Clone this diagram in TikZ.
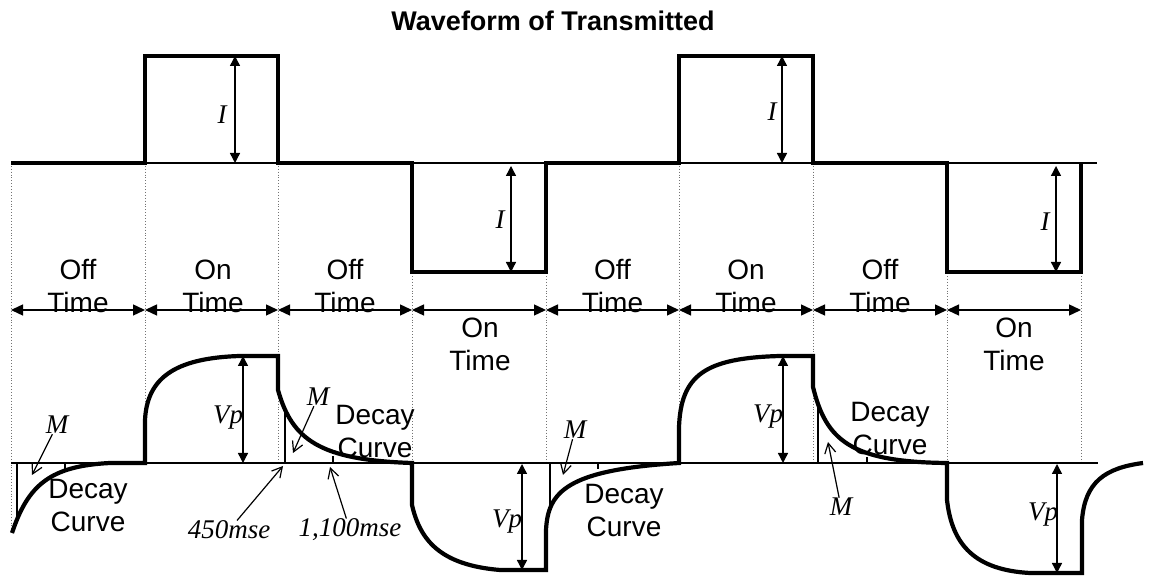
\documentclass[tikz,border=0pt]{standalone}
\usepackage{fontspec}
\newfontfamily\mysans{Liberation Sans}
\newfontfamily\myserif{Liberation Serif}
\usetikzlibrary{arrows.meta}
\begin{document}
\begin{tikzpicture}[x=0.5pt,y=-0.5pt,
  wave/.style={line width=2.1pt, line join=miter},
  base/.style={line width=0.8pt},
  guide/.style={black!55, line width=0.45pt, densely dotted},
  rowarrow/.style={line width=0.7pt, {Triangle[length=6pt,width=5.5pt]}-{Triangle[length=6pt,width=5.5pt]}},
  amp/.style={line width=0.7pt, {Triangle[length=5pt,width=5pt]}-{Triangle[length=5pt,width=5pt]}},
  pointer/.style={line width=0.6pt, -{Straight Barb[length=5pt,width=5.5pt]}},
  txt/.style={font=\mysans\fontsize{14}{16}\selectfont, inner sep=0pt},
  sym/.style={font=\myserif\itshape\fontsize{13.5}{15}\selectfont, inner sep=0pt},
  ttl/.style={font=\mysans\bfseries\fontsize{13.5}{15}\selectfont, inner sep=0pt}]

\useasboundingbox[fill=white] (0,0) rectangle (1151,576);

% title
\node[ttl] (title) at (553,21) {Waveform of Transmitted};

% guide coordinates
\foreach \i/\x in {0/11,1/145,2/278,3/412,4/546,5/679,6/813,7/947,8/1081} {
  \coordinate (g\i) at (\x,163);
  \coordinate (h\i) at (\x,463);
  \coordinate (r\i) at (\x,310);
}
% dotted guides
\foreach \i in {1,...,8} { \draw[guide] (g\i) -- (h\i); }
\coordinate (h0b) at (11,533);
\draw[guide] (g0) -- (h0b);

% top baseline and transmitted waveform
\coordinate (tb0) at (11,163);
\coordinate (tb1) at (1097,163);
\draw[base] (tb0) -- (tb1);
\draw[wave] (11,163) -- (145,163) -- (145,56) -- (278,56) -- (278,163) -- (412,163)
  -- (412,272) -- (546,272) -- (546,163) -- (679,163) -- (679,56) -- (813,56)
  -- (813,163) -- (947,163) -- (947,272) -- (1081,272) -- (1081,163);

% current amplitude arrows
\coordinate (ia1) at (235,56);  \coordinate (ib1) at (235,163);
\coordinate (ia2) at (511,166); \coordinate (ib2) at (511,272);
\coordinate (ia3) at (782,56);  \coordinate (ib3) at (782,163);
\coordinate (ia4) at (1056,166); \coordinate (ib4) at (1056,272);
\foreach \k in {1,...,4} { \draw[amp] (ia\k) -- (ib\k); }
\node[sym] (i1) at (222,115) {I};
\node[sym] (i2) at (500,220) {I};
\node[sym] (i3) at (772,112) {I};
\node[sym] (i4) at (1045,222) {I};

% time arrows
\foreach \i [evaluate=\i as \j using int(\i+1)] in {0,...,7} { \draw[rowarrow] (r\i) -- (r\j); }

% time labels
\foreach \n/\x/\w in {a/78/Off, b/213/On, c/345/Off, e/612.5/Off, f/746/On, g/880/Off} {
  \node[txt] (w\n) at (\x,270) {\w};
  \node[txt] (t\n) at (\x,302) {Time};
}
\foreach \n/\x in {d/480, h/1014} {
  \node[txt] (w\n) at (\x,328) {On};
  \node[txt] (t\n) at (\x,360) {Time};
}

% bottom baseline and received waveform
\coordinate (bb0) at (11,463);
\coordinate (bb1) at (1098,463);
\draw[base] (bb0) -- (bb1);
\draw[wave] (12,533) .. controls (28,485) and (50,466) .. (110,463) -- (145,463)
  -- (145,420) .. controls (147,380) and (172,358) .. (240,356) -- (278,356)
  -- (278,390) .. controls (292,440) and (320,460) .. (412,463)
  -- (412,505) .. controls (420,540) and (440,565) .. (500,570) -- (546,570)
  -- (546,530) .. controls (548,492) and (566,470) .. (679,463)
  -- (679,427) .. controls (681,375) and (705,358) .. (780,356) -- (813,356)
  -- (813,387) .. controls (826,440) and (850,462) .. (947,463)
  -- (947,500) .. controls (952,545) and (975,570) .. (1030,573) -- (1082,573)
  -- (1082,520) .. controls (1085,482) and (1105,468) .. (1143,463);

% M sample lines and ticks
\draw[base] (17,463) -- (17,519);
\draw[base] (65,463) -- (65,469);
\draw[base] (285,463) -- (285,411);
\draw[base] (333,463) -- (333,456);
\draw[base] (550,463) -- (550,510);
\draw[base] (598,463) -- (598,469);
\draw[base] (818,463) -- (818,405);
\draw[base] (867,463) -- (867,457);

% Vp arrows
\coordinate (va1) at (243,356);  \coordinate (vb1) at (243,463);
\coordinate (va2) at (522,464);  \coordinate (vb2) at (522,570);
\coordinate (va3) at (783,356);  \coordinate (vb3) at (783,463);
\coordinate (va4) at (1057,464); \coordinate (vb4) at (1057,573);
\foreach \k in {1,...,4} { \draw[amp] (va\k) -- (vb\k); }
\node[sym] (vp1) at (228,418) {Vp};
\node[sym] (vp2) at (507,522) {Vp};
\node[sym] (vp3) at (768,417) {Vp};
\node[sym] (vp4) at (1043,515) {Vp};

% Decay curve labels
\foreach \n/\x/\y in {1/88/492, 2/375/418, 3/624/497, 4/890/415} {
  \node[txt] (dc\n) at (\x,\y) {Decay};
  \node[txt] (cv\n) at (\x,\y+30) {Curve};
}

% M labels with pointers
\node[sym] (m1) at (57,425) {M};  \coordinate (m1t) at (32,475);
\node[sym] (m2) at (318,397) {M}; \coordinate (m2t) at (293,453);
\node[sym] (m3) at (575,430) {M}; \coordinate (m3t) at (563,475);
\node[sym] (m4) at (841,507) {M}; \coordinate (m4t) at (828,442);
\foreach \k in {1,...,4} { \draw[pointer] (m\k) -- (m\k t); }

% time markers
\node[sym] (t450) at (229,530) {450mse};
\node[sym] (t1100) at (350,530) {1,100mse};
\coordinate (p450) at (283,466);
\coordinate (p1100) at (330,467);
\draw[pointer] (t450) -- (p450);
\draw[pointer] (t1100) -- (p1100);
\end{tikzpicture}
\end{document}
